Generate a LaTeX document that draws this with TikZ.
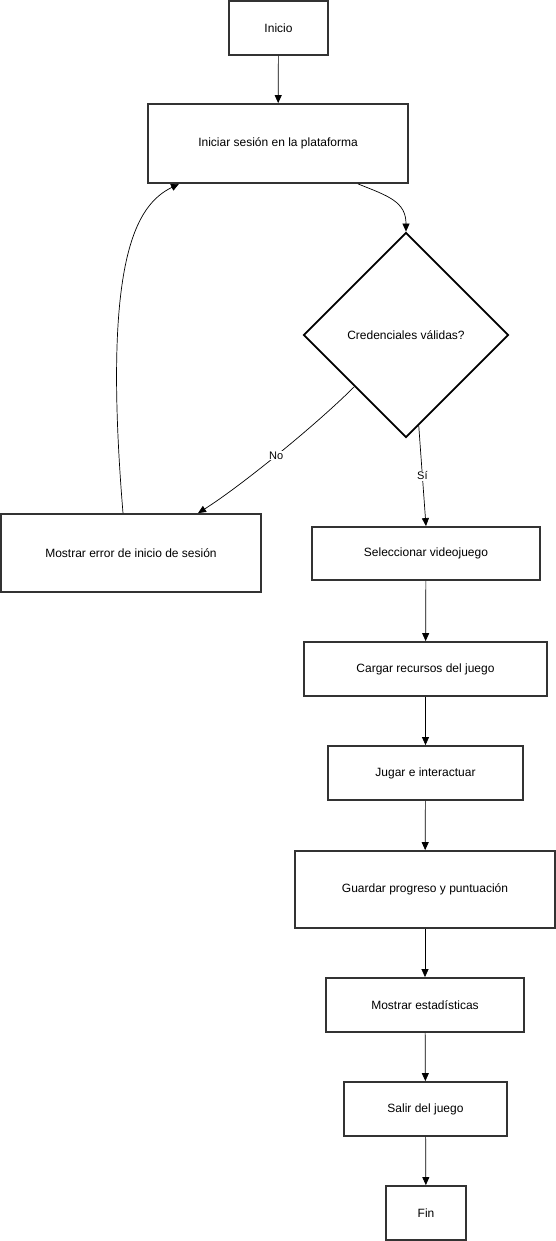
\documentclass[tikz,border=0pt]{standalone}
\usepackage{fontspec}
\setmainfont{Liberation Sans}
\usepackage{xcolor}
\usetikzlibrary{shapes, arrows.meta}

\begin{document}
\begin{tikzpicture}[x=1pt, y=-1pt,
	box/.style={draw=black!80, line width=1.8pt, rectangle, fill=white,
		inner sep=0pt, font=\fontsize{12}{14}\selectfont},
	link/.style={-{Triangle[length=8pt, width=7pt]}, line width=0.7pt},
	tag/.style={fill=white, inner sep=1pt, font=\fontsize{11}{13}\selectfont}]
	\useasboundingbox (0,0) rectangle (556,1241);
	% Start block
	\node[box,
	minimum width=99pt,
	minimum height=54pt] (start) at (278.5,28) {Inicio};
	% Login block
	\node[box,
	minimum width=260pt,
	minimum height=79pt] (login) at (278,143.5) {Iniciar sesión en la plataforma};
	% Decision block
	\node[draw=black, line width=1.8pt,
	diamond,
	aspect=1,
	inner sep=0pt,
	minimum width=205pt,
	minimum height=205pt,
	font=\fontsize{12}{14}\selectfont] (check) at (406,335) {Credenciales válidas?};
	% Error block
	\node[box,
	minimum width=260pt,
	minimum height=78pt] (error) at (131,553) {Mostrar error de inicio de sesión};
	% Game blocks
	\node[box,
	minimum width=228pt,
	minimum height=53pt] (select) at (426,553.5) {Seleccionar videojuego};
	\node[box,
	minimum width=243pt,
	minimum height=54pt] (load) at (425.5,669) {Cargar recursos del juego};
	\node[box,
	minimum width=195pt,
	minimum height=54pt] (play) at (425.5,773) {Jugar e interactuar};
	\node[box,
	minimum width=260pt,
	minimum height=77pt] (save) at (425,889.5) {Guardar progreso y puntuación};
	\node[box,
	minimum width=198pt,
	minimum height=54pt] (stats) at (425,1005) {Mostrar estadísticas};
	\node[box,
	minimum width=163pt,
	minimum height=54pt] (quit) at (425.5,1109) {Salir del juego};
	% End block
	\node[box,
	minimum width=80pt,
	minimum height=54pt] (end) at (426,1213) {Fin};
	% Arrows
	\draw[link] (start) -- (login);
	\draw[link] ([xshift=80pt]login.south) .. controls +(30,12) and +(0,-30) .. (check.north);
	\draw[link] (check.south west) .. controls +(-40,40) and +(40,-25) .. node[tag] {No} ([xshift=67pt]error.north);
	\draw[link] (check.-82) -- node[tag] {Sí} (select.north);
	\draw[link] ([xshift=-8pt]error.north) .. controls +(-21,-254) and +(-43,21) .. ([xshift=-99pt]login.south);
	\draw[link] (select) -- (load);
	\draw[link] (load) -- (play);
	\draw[link] (play) -- (save);
	\draw[link] (save) -- (stats);
	\draw[link] (stats) -- (quit);
	\draw[link] (quit) -- (end);
\end{tikzpicture}
\end{document}
